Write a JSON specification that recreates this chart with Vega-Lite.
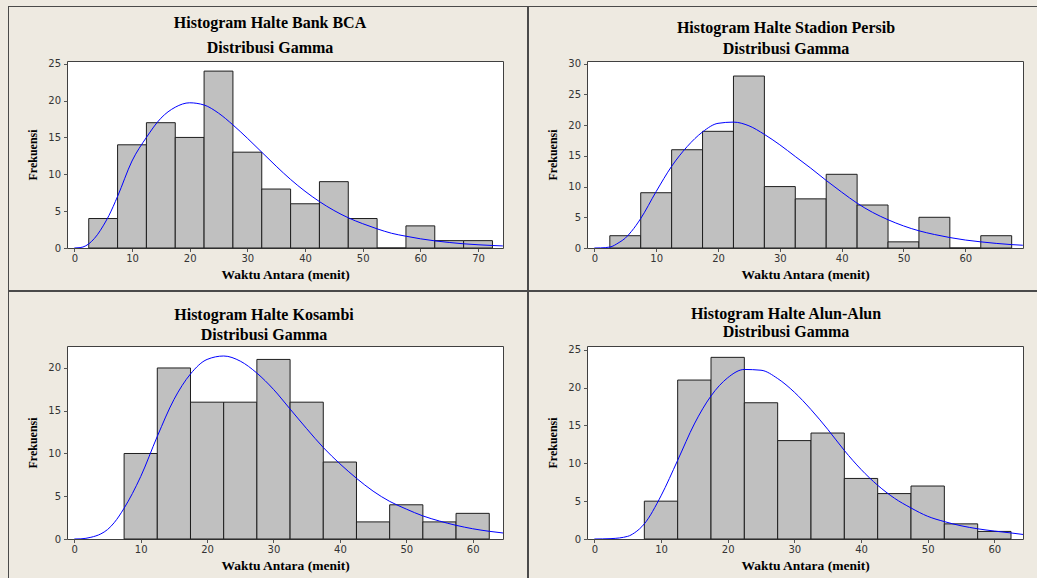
{
  "$schema": "https://vega.github.io/schema/vega-lite/v6.json",
  "background": "#EEEAE1",
  "padding": {"left": 8, "top": 6, "right": 0, "bottom": 0},
  "columns": 8,
  "spacing": 0,
  "bounds": "flush",
  "align": "each",
  "datasets": {
    "bca_bins": [
      {"lo": 2.5, "hi": 7.5, "count": 4}, {"lo": 7.5, "hi": 12.5, "count": 14}, {"lo": 12.5, "hi": 17.5, "count": 17},
      {"lo": 17.5, "hi": 22.5, "count": 15}, {"lo": 22.5, "hi": 27.5, "count": 24}, {"lo": 27.5, "hi": 32.5, "count": 13},
      {"lo": 32.5, "hi": 37.5, "count": 8}, {"lo": 37.5, "hi": 42.5, "count": 6}, {"lo": 42.5, "hi": 47.5, "count": 9},
      {"lo": 47.5, "hi": 52.5, "count": 4}, {"lo": 52.5, "hi": 57.5, "count": 0}, {"lo": 57.5, "hi": 62.5, "count": 3},
      {"lo": 62.5, "hi": 67.5, "count": 1}, {"lo": 67.5, "hi": 72.5, "count": 1}
    ],
    "bca_curve": [
      {"x": 0, "y": 0}, {"x": 1, "y": 0.05}, {"x": 2, "y": 0.3}, {"x": 3, "y": 0.9}, {"x": 4, "y": 1.8}, {"x": 5, "y": 3.0},
      {"x": 6, "y": 4.4}, {"x": 7.5, "y": 7.0}, {"x": 10, "y": 11.8}, {"x": 12.5, "y": 15.0}, {"x": 15, "y": 17.6},
      {"x": 17.5, "y": 19.1}, {"x": 20, "y": 19.7}, {"x": 22.5, "y": 19.4}, {"x": 25, "y": 18.3}, {"x": 27.5, "y": 16.7},
      {"x": 30, "y": 14.9}, {"x": 32.5, "y": 13.0}, {"x": 35, "y": 11.1}, {"x": 37.5, "y": 9.3}, {"x": 40, "y": 7.7},
      {"x": 42.5, "y": 6.3}, {"x": 45, "y": 5.1}, {"x": 47.5, "y": 4.1}, {"x": 50, "y": 3.3}, {"x": 52.5, "y": 2.6},
      {"x": 55, "y": 2.0}, {"x": 57.5, "y": 1.6}, {"x": 60, "y": 1.25}, {"x": 62.5, "y": 0.97}, {"x": 65, "y": 0.75},
      {"x": 67.5, "y": 0.57}, {"x": 70, "y": 0.44}, {"x": 72.5, "y": 0.34}, {"x": 74.3, "y": 0.28}
    ],
    "persib_bins": [
      {"lo": 2.5, "hi": 7.5, "count": 2}, {"lo": 7.5, "hi": 12.5, "count": 9}, {"lo": 12.5, "hi": 17.5, "count": 16},
      {"lo": 17.5, "hi": 22.5, "count": 19}, {"lo": 22.5, "hi": 27.5, "count": 28}, {"lo": 27.5, "hi": 32.5, "count": 10},
      {"lo": 32.5, "hi": 37.5, "count": 8}, {"lo": 37.5, "hi": 42.5, "count": 12}, {"lo": 42.5, "hi": 47.5, "count": 7},
      {"lo": 47.5, "hi": 52.5, "count": 1}, {"lo": 52.5, "hi": 57.5, "count": 5}, {"lo": 57.5, "hi": 62.5, "count": 0},
      {"lo": 62.5, "hi": 67.5, "count": 2}
    ],
    "persib_curve": [
      {"x": 0, "y": 0}, {"x": 1, "y": 0.02}, {"x": 2.5, "y": 0.15}, {"x": 4, "y": 0.9}, {"x": 5, "y": 1.6}, {"x": 6, "y": 2.7},
      {"x": 7.5, "y": 4.8}, {"x": 10, "y": 9.2}, {"x": 12.5, "y": 13.3}, {"x": 15, "y": 16.5}, {"x": 17.5, "y": 18.9},
      {"x": 20, "y": 20.3}, {"x": 22.5, "y": 20.5}, {"x": 25, "y": 19.9}, {"x": 27.5, "y": 18.5}, {"x": 30, "y": 16.8},
      {"x": 32.5, "y": 14.9}, {"x": 35, "y": 13.0}, {"x": 37.5, "y": 11.0}, {"x": 40, "y": 9.1}, {"x": 42.5, "y": 7.3},
      {"x": 45, "y": 5.8}, {"x": 47.5, "y": 4.6}, {"x": 50, "y": 3.6}, {"x": 52.5, "y": 2.8}, {"x": 55, "y": 2.2},
      {"x": 57.5, "y": 1.7}, {"x": 60, "y": 1.3}, {"x": 62.5, "y": 1.0}, {"x": 65, "y": 0.75}, {"x": 67.5, "y": 0.55},
      {"x": 69.3, "y": 0.45}
    ],
    "kosambi_bins": [
      {"lo": 7.5, "hi": 12.5, "count": 10}, {"lo": 12.5, "hi": 17.5, "count": 20}, {"lo": 17.5, "hi": 22.5, "count": 16},
      {"lo": 22.5, "hi": 27.5, "count": 16}, {"lo": 27.5, "hi": 32.5, "count": 21}, {"lo": 32.5, "hi": 37.5, "count": 16},
      {"lo": 37.5, "hi": 42.5, "count": 9}, {"lo": 42.5, "hi": 47.5, "count": 2}, {"lo": 47.5, "hi": 52.5, "count": 4},
      {"lo": 52.5, "hi": 57.5, "count": 2}, {"lo": 57.5, "hi": 62.5, "count": 3}
    ],
    "kosambi_curve": [
      {"x": 0, "y": 0}, {"x": 1, "y": 0.02}, {"x": 2.5, "y": 0.2}, {"x": 4, "y": 0.6}, {"x": 5, "y": 1.1}, {"x": 6, "y": 1.9},
      {"x": 7.5, "y": 3.6}, {"x": 10, "y": 7.3}, {"x": 12.5, "y": 12.0}, {"x": 15, "y": 16.3}, {"x": 17.5, "y": 19.3},
      {"x": 20, "y": 21.0}, {"x": 22.5, "y": 21.4}, {"x": 25, "y": 20.8}, {"x": 27.5, "y": 19.4}, {"x": 30, "y": 17.5},
      {"x": 32.5, "y": 15.2}, {"x": 35, "y": 12.9}, {"x": 37.5, "y": 10.7}, {"x": 40, "y": 8.8}, {"x": 42.5, "y": 7.1},
      {"x": 45, "y": 5.6}, {"x": 47.5, "y": 4.4}, {"x": 50, "y": 3.5}, {"x": 52.5, "y": 2.7}, {"x": 55, "y": 2.1},
      {"x": 57.5, "y": 1.6}, {"x": 60, "y": 1.2}, {"x": 62.5, "y": 0.9}, {"x": 64.6, "y": 0.7}
    ],
    "alun_bins": [
      {"lo": 7.5, "hi": 12.5, "count": 5}, {"lo": 12.5, "hi": 17.5, "count": 21}, {"lo": 17.5, "hi": 22.5, "count": 24},
      {"lo": 22.5, "hi": 27.5, "count": 18}, {"lo": 27.5, "hi": 32.5, "count": 13}, {"lo": 32.5, "hi": 37.5, "count": 14},
      {"lo": 37.5, "hi": 42.5, "count": 8}, {"lo": 42.5, "hi": 47.5, "count": 6}, {"lo": 47.5, "hi": 52.5, "count": 7},
      {"lo": 52.5, "hi": 57.5, "count": 2}, {"lo": 57.5, "hi": 62.5, "count": 1}
    ],
    "alun_curve": [
      {"x": 0, "y": 0}, {"x": 2.5, "y": 0.05}, {"x": 5, "y": 0.35}, {"x": 6, "y": 0.8}, {"x": 7.5, "y": 2.0}, {"x": 10, "y": 5.7},
      {"x": 12.5, "y": 10.4}, {"x": 15, "y": 15.2}, {"x": 17.5, "y": 18.9}, {"x": 20, "y": 21.3}, {"x": 22.5, "y": 22.4},
      {"x": 25, "y": 22.3}, {"x": 27.5, "y": 21.2}, {"x": 30, "y": 19.4}, {"x": 32.5, "y": 17.1}, {"x": 35, "y": 14.5},
      {"x": 37.5, "y": 11.7}, {"x": 40, "y": 9.2}, {"x": 42.5, "y": 7.1}, {"x": 45, "y": 5.4}, {"x": 47.5, "y": 4.1},
      {"x": 50, "y": 3.0}, {"x": 52.5, "y": 2.3}, {"x": 55, "y": 1.75}, {"x": 57.5, "y": 1.35}, {"x": 60, "y": 1.05},
      {"x": 62.5, "y": 0.8}, {"x": 64.3, "y": 0.6}
    ]
  },
  "concat": [
    {"width": 1, "height": 1, "data": {"values": []}, "mark": "point", "view": {"fill": "#4a4a4a"}},
    {"width": 58, "height": 1, "data": {"values": []}, "mark": "point", "view": {"fill": "#4a4a4a"}},
    {"width": 436, "height": 1, "data": {"values": []}, "mark": "point", "view": {"fill": "#4a4a4a"}},
    {"width": 24, "height": 1, "data": {"values": []}, "mark": "point", "view": {"fill": "#4a4a4a"}},
    {"width": 2, "height": 1, "data": {"values": []}, "mark": "point", "view": {"fill": "#4a4a4a"}},
    {"width": 58, "height": 1, "data": {"values": []}, "mark": "point", "view": {"fill": "#4a4a4a"}},
    {"width": 436, "height": 1, "data": {"values": []}, "mark": "point", "view": {"fill": "#4a4a4a"}},
    {"width": 14, "height": 1, "data": {"values": []}, "mark": "point", "view": {"fill": "#4a4a4a"}},

    {"width": 1, "height": 54, "data": {"values": []}, "mark": "point", "view": {"fill": "#4a4a4a"}},
    {"width": 1, "height": 1, "data": {"values": []}, "mark": "point"},
    {"width": 1, "height": 1, "data": {"values": []}, "mark": "point"},
    {"width": 1, "height": 1, "data": {"values": []}, "mark": "point"},
    {"width": 2, "height": 54, "data": {"values": []}, "mark": "point", "view": {"fill": "#4a4a4a"}},
    {"width": 1, "height": 1, "data": {"values": []}, "mark": "point"},
    {"width": 1, "height": 1, "data": {"values": []}, "mark": "point"},
    {"width": 1, "height": 1, "data": {"values": []}, "mark": "point"},

    {"width": 1, "height": 187, "data": {"values": []}, "mark": "point", "view": {"fill": "#4a4a4a"}},
    {"width": 1, "height": 1, "data": {"values": []}, "mark": "point"},
    {
      "width": 436, "height": 187,
      "title": {"text": ["Histogram Halte Bank BCA", "Distribusi Gamma"], "lineHeight": 24.5, "dx": -15, "offset": 3},
      "view": {"fill": "white", "stroke": "#404040", "strokeWidth": 1},
      "layer": [
        {"data": {"name": "bca_bins"}, "mark": {"type": "bar", "fill": "#c0c0c0", "stroke": "#1e1e1e", "strokeWidth": 1},
         "encoding": {
           "x": {"field": "lo", "type": "quantitative", "scale": {"domain": [-1.27, 74.33], "nice": false, "zero": false}, "axis": {"values": [0, 10, 20, 30, 40, 50, 60, 70], "title": "Waktu Antara (menit)"}},
           "x2": {"field": "hi"},
           "y": {"field": "count", "type": "quantitative", "scale": {"domain": [0, 25.37], "nice": false}, "axis": {"values": [0, 5, 10, 15, 20, 25], "title": "Frekuensi"}},
           "y2": {"datum": 0}
         }},
        {"data": {"name": "bca_curve"}, "mark": {"type": "line", "color": "#0000ff", "strokeWidth": 1, "interpolate": "monotone", "clip": true},
         "encoding": {
           "x": {"field": "x", "type": "quantitative", "scale": {"domain": [-1.27, 74.33], "nice": false, "zero": false}, "axis": {"values": [0, 10, 20, 30, 40, 50, 60, 70], "title": "Waktu Antara (menit)"}},
           "y": {"field": "y", "type": "quantitative", "scale": {"domain": [0, 25.37], "nice": false}, "axis": {"values": [0, 5, 10, 15, 20, 25], "title": "Frekuensi"}}
         }}
      ]
    },
    {"width": 1, "height": 1, "data": {"values": []}, "mark": "point"},
    {"width": 2, "height": 187, "data": {"values": []}, "mark": "point", "view": {"fill": "#4a4a4a"}},
    {"width": 1, "height": 1, "data": {"values": []}, "mark": "point"},
    {
      "width": 436, "height": 187,
      "title": {"text": ["Histogram Halte Stadion Persib", "Distribusi Gamma"], "lineHeight": 20.5, "dx": -19, "offset": 2},
      "view": {"fill": "white", "stroke": "#404040", "strokeWidth": 1},
      "layer": [
        {"data": {"name": "persib_bins"}, "mark": {"type": "bar", "fill": "#c0c0c0", "stroke": "#1e1e1e", "strokeWidth": 1},
         "encoding": {
           "x": {"field": "lo", "type": "quantitative", "scale": {"domain": [-1.19, 69.33], "nice": false, "zero": false}, "axis": {"values": [0, 10, 20, 30, 40, 50, 60], "title": "Waktu Antara (menit)"}},
           "x2": {"field": "hi"},
           "y": {"field": "count", "type": "quantitative", "scale": {"domain": [0, 30.45], "nice": false}, "axis": {"values": [0, 5, 10, 15, 20, 25, 30], "title": "Frekuensi"}},
           "y2": {"datum": 0}
         }},
        {"data": {"name": "persib_curve"}, "mark": {"type": "line", "color": "#0000ff", "strokeWidth": 1, "interpolate": "monotone", "clip": true},
         "encoding": {
           "x": {"field": "x", "type": "quantitative", "scale": {"domain": [-1.19, 69.33], "nice": false, "zero": false}, "axis": {"values": [0, 10, 20, 30, 40, 50, 60], "title": "Waktu Antara (menit)"}},
           "y": {"field": "y", "type": "quantitative", "scale": {"domain": [0, 30.45], "nice": false}, "axis": {"values": [0, 5, 10, 15, 20, 25, 30], "title": "Frekuensi"}}
         }}
      ]
    },
    {"width": 1, "height": 1, "data": {"values": []}, "mark": "point"},

    {"width": 1, "height": 42, "data": {"values": []}, "mark": "point", "view": {"fill": "#4a4a4a"}},
    {"width": 1, "height": 1, "data": {"values": []}, "mark": "point"},
    {"width": 1, "height": 1, "data": {"values": []}, "mark": "point"},
    {"width": 1, "height": 1, "data": {"values": []}, "mark": "point"},
    {"width": 2, "height": 42, "data": {"values": []}, "mark": "point", "view": {"fill": "#4a4a4a"}},
    {"width": 1, "height": 1, "data": {"values": []}, "mark": "point"},
    {"width": 1, "height": 1, "data": {"values": []}, "mark": "point"},
    {"width": 1, "height": 1, "data": {"values": []}, "mark": "point"},

    {"width": 1, "height": 2, "data": {"values": []}, "mark": "point", "view": {"fill": "#4a4a4a"}},
    {"width": 58, "height": 2, "data": {"values": []}, "mark": "point", "view": {"fill": "#4a4a4a"}},
    {"width": 436, "height": 2, "data": {"values": []}, "mark": "point", "view": {"fill": "#4a4a4a"}},
    {"width": 24, "height": 2, "data": {"values": []}, "mark": "point", "view": {"fill": "#4a4a4a"}},
    {"width": 2, "height": 2, "data": {"values": []}, "mark": "point", "view": {"fill": "#4a4a4a"}},
    {"width": 58, "height": 2, "data": {"values": []}, "mark": "point", "view": {"fill": "#4a4a4a"}},
    {"width": 436, "height": 2, "data": {"values": []}, "mark": "point", "view": {"fill": "#4a4a4a"}},
    {"width": 14, "height": 2, "data": {"values": []}, "mark": "point", "view": {"fill": "#4a4a4a"}},

    {"width": 1, "height": 54, "data": {"values": []}, "mark": "point", "view": {"fill": "#4a4a4a"}},
    {"width": 1, "height": 1, "data": {"values": []}, "mark": "point"},
    {"width": 1, "height": 1, "data": {"values": []}, "mark": "point"},
    {"width": 1, "height": 1, "data": {"values": []}, "mark": "point"},
    {"width": 2, "height": 54, "data": {"values": []}, "mark": "point", "view": {"fill": "#4a4a4a"}},
    {"width": 1, "height": 1, "data": {"values": []}, "mark": "point"},
    {"width": 1, "height": 1, "data": {"values": []}, "mark": "point"},
    {"width": 1, "height": 1, "data": {"values": []}, "mark": "point"},

    {"width": 1, "height": 193, "data": {"values": []}, "mark": "point", "view": {"fill": "#4a4a4a"}},
    {"width": 1, "height": 1, "data": {"values": []}, "mark": "point"},
    {
      "width": 436, "height": 193,
      "title": {"text": ["Histogram Halte Kosambi", "Distribusi Gamma"], "lineHeight": 19.5, "dx": -21, "offset": 3.5},
      "view": {"fill": "white", "stroke": "#404040", "strokeWidth": 1},
      "layer": [
        {"data": {"name": "kosambi_bins"}, "mark": {"type": "bar", "fill": "#c0c0c0", "stroke": "#1e1e1e", "strokeWidth": 1},
         "encoding": {
           "x": {"field": "lo", "type": "quantitative", "scale": {"domain": [-1.1, 64.57], "nice": false, "zero": false}, "axis": {"values": [0, 10, 20, 30, 40, 50, 60], "title": "Waktu Antara (menit)"}},
           "x2": {"field": "hi"},
           "y": {"field": "count", "type": "quantitative", "scale": {"domain": [0, 22.57], "nice": false}, "axis": {"values": [0, 5, 10, 15, 20], "title": "Frekuensi"}},
           "y2": {"datum": 0}
         }},
        {"data": {"name": "kosambi_curve"}, "mark": {"type": "line", "color": "#0000ff", "strokeWidth": 1, "interpolate": "monotone", "clip": true},
         "encoding": {
           "x": {"field": "x", "type": "quantitative", "scale": {"domain": [-1.1, 64.57], "nice": false, "zero": false}, "axis": {"values": [0, 10, 20, 30, 40, 50, 60], "title": "Waktu Antara (menit)"}},
           "y": {"field": "y", "type": "quantitative", "scale": {"domain": [0, 22.57], "nice": false}, "axis": {"values": [0, 5, 10, 15, 20], "title": "Frekuensi"}}
         }}
      ]
    },
    {"width": 1, "height": 1, "data": {"values": []}, "mark": "point"},
    {"width": 2, "height": 193, "data": {"values": []}, "mark": "point", "view": {"fill": "#4a4a4a"}},
    {"width": 1, "height": 1, "data": {"values": []}, "mark": "point"},
    {
      "width": 436, "height": 193,
      "title": {"text": ["Histogram Halte Alun-Alun", "Distribusi Gamma"], "lineHeight": 18, "dx": -19, "offset": 5},
      "view": {"fill": "white", "stroke": "#404040", "strokeWidth": 1},
      "layer": [
        {"data": {"name": "alun_bins"}, "mark": {"type": "bar", "fill": "#c0c0c0", "stroke": "#1e1e1e", "strokeWidth": 1},
         "encoding": {
           "x": {"field": "lo", "type": "quantitative", "scale": {"domain": [-1.1, 64.3], "nice": false, "zero": false}, "axis": {"values": [0, 10, 20, 30, 40, 50, 60], "title": "Waktu Antara (menit)"}},
           "x2": {"field": "hi"},
           "y": {"field": "count", "type": "quantitative", "scale": {"domain": [0, 25.5], "nice": false}, "axis": {"values": [0, 5, 10, 15, 20, 25], "title": "Frekuensi"}},
           "y2": {"datum": 0}
         }},
        {"data": {"name": "alun_curve"}, "mark": {"type": "line", "color": "#0000ff", "strokeWidth": 1, "interpolate": "monotone", "clip": true},
         "encoding": {
           "x": {"field": "x", "type": "quantitative", "scale": {"domain": [-1.1, 64.3], "nice": false, "zero": false}, "axis": {"values": [0, 10, 20, 30, 40, 50, 60], "title": "Waktu Antara (menit)"}},
           "y": {"field": "y", "type": "quantitative", "scale": {"domain": [0, 25.5], "nice": false}, "axis": {"values": [0, 5, 10, 15, 20, 25], "title": "Frekuensi"}}
         }}
      ]
    },
    {"width": 1, "height": 1, "data": {"values": []}, "mark": "point"},

    {"width": 1, "height": 39, "data": {"values": []}, "mark": "point", "view": {"fill": "#4a4a4a"}},
    {"width": 1, "height": 1, "data": {"values": []}, "mark": "point"},
    {"width": 1, "height": 1, "data": {"values": []}, "mark": "point"},
    {"width": 1, "height": 1, "data": {"values": []}, "mark": "point"},
    {"width": 2, "height": 39, "data": {"values": []}, "mark": "point", "view": {"fill": "#4a4a4a"}},
    {"width": 1, "height": 1, "data": {"values": []}, "mark": "point"},
    {"width": 1, "height": 1, "data": {"values": []}, "mark": "point"},
    {"width": 1, "height": 1, "data": {"values": []}, "mark": "point"}
  ],
  "config": {
    "view": {"stroke": null},
    "title": {"font": "Liberation Serif", "fontSize": 16, "fontWeight": "bold", "color": "#000000", "anchor": "middle", "frame": "group"},
    "axis": {
      "labelFont": "DejaVu Sans", "labelFontSize": 10, "labelColor": "#333333",
      "tickColor": "#555555", "tickSize": 3.5, "domain": false, "grid": false,
      "titleFont": "Liberation Serif", "titleFontWeight": "bold", "titleColor": "#000000"
    },
    "axisX": {"titleFontSize": 13.5, "labelPadding": 2, "titlePadding": 4},
    "axisY": {"titleFontSize": 12, "labelPadding": 3, "titlePadding": 8}
  }
}
